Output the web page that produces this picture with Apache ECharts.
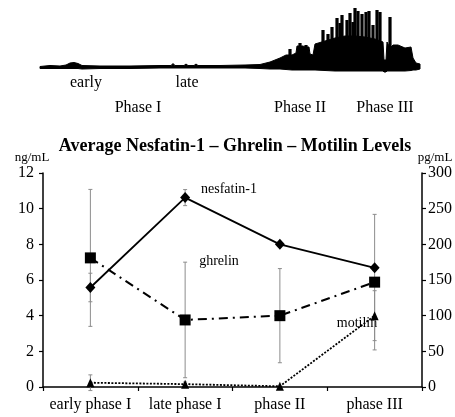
<!DOCTYPE html>
<html>
<head>
<meta charset="utf-8">
<script src="https://cdn.jsdelivr.net/npm/echarts@6/dist/echarts.min.js"></script>
<style>
html,body{margin:0;padding:0;background:#fff;}
#chart{width:455px;height:417px;}
</style>
</head>
<body>
<div id="chart"></div>
<script>
// ---- main chart data ----
const categories = ['early phase I', 'late phase I', 'phase II', 'phase III'];
const nesfatin = [5.58, 10.62, 8.0, 6.68];        // ng/mL (left axis)
const nesfatinErr = [0.8, 0.45, 0.15, 0.15];
const ghrelin = [181, 94, 100, 147];               // pg/mL (right axis)
const ghrelinErr = [96, 81, 66, 95];
const motilin = [6, 4, 1, 100];                    // pg/mL (right axis)
const motilinErr = [11, 3, 0, 35];
const leftTicks = [0, 2, 4, 6, 8, 10, 12];
const rightTicks = [0, 50, 100, 150, 200, 250, 300];

// ---- motility trace (time units, amplitude units) ----
const traceT   = [0, 10, 20, 26, 30, 34, 38, 42, 60, 90, 120, 131, 133, 135, 144, 146, 148, 154, 156, 158, 180, 205, 220, 230, 240, 246, 252, 256, 257, 263, 265, 269, 270, 273, 275, 285, 295, 305, 315, 325, 335, 343, 344, 346, 347, 350, 353, 358, 365, 371, 373, 376, 380];
const traceTop = [0.5, 1.5, 1, 2, 4, 4.5, 3.5, 1.5, 1, 1, 1.5, 1.5, 3.5, 1.5, 1.5, 3, 1.5, 1.5, 3, 1.5, 1.5, 2, 2.5, 5, 9, 12, 12, 14, 21, 21, 20, 20, 13, 12, 23, 26, 29, 31, 31, 30, 28, 25, 7, 7, 25, 19, 22, 22, 19, 20, 9, 4, 3];
const traceBot = [-1.5, -1.5, -1.5, -1.5, -1.5, -1.5, -1.5, -2, -1.5, -1.5, -1, -1, -1, -1, -1, -1, -1, -1, -1, -1, -1, -1, -1.5, -2, -2, -2.5, -3, -3, -3, -3, -3, -3, -3, -3, -3, -3.5, -4, -4, -4, -4, -4, -4, -5, -5, -4, -4, -4, -4, -4, -3.5, -3, -3, -2];
const spikeT   = [250, 260, 266, 283, 288, 292, 297, 300, 302, 307, 310, 313, 315, 318, 322, 326, 329, 333, 337, 340, 350];
const spikeTop = [18, 24, 22, 37, 33, 40, 49, 44, 52, 47, 54, 45, 59, 56, 53, 55, 56, 42, 57, 55, 50];

const serif = '"Liberation Serif", "DejaVu Serif", serif';

function errorBarSeries(values, errs, yAxisIndex) {
  return {
    type: 'custom',
    xAxisIndex: 0,
    yAxisIndex: yAxisIndex,
    z: 1,
    silent: true,
    data: values.map((v, i) => [i, v - errs[i], v + errs[i]]),
    renderItem: function (params, api) {
      if (api.value(2) - api.value(1) <= 0) return null;
      const lo = api.coord([api.value(0), api.value(1)]);
      const hi = api.coord([api.value(0), api.value(2)]);
      const w = 2;
      const st = { stroke: '#8c8c8c', lineWidth: 1 };
      return {
        type: 'group',
        children: [
          { type: 'line', shape: { x1: lo[0], y1: lo[1], x2: hi[0], y2: hi[1] }, style: st },
          { type: 'line', shape: { x1: lo[0] - w, y1: lo[1], x2: lo[0] + w, y2: lo[1] }, style: st },
          { type: 'line', shape: { x1: hi[0] - w, y1: hi[1], x2: hi[0] + w, y2: hi[1] }, style: st }
        ]
      };
    }
  };
}

const chart = echarts.init(document.getElementById('chart'), null, { renderer: 'canvas' });

const txt = (x, y, s, size, weight) => ({
  type: 'text', x: x, y: y, silent: true,
  style: { text: s, fill: '#000', font: (weight || 'normal') + ' ' + size + 'px ' + serif, textAlign: 'center', textVerticalAlign: 'middle' }
});

chart.setOption({
  animation: false,
  backgroundColor: '#fff',
  grid: [
    { left: 43, right: 32, top: 173, bottom: 30 },
    { left: 40, width: 380, top: 0, height: 80 }
  ],
  xAxis: [
    {
      type: 'category', gridIndex: 0, data: categories, boundaryGap: true,
      axisLine: { lineStyle: { color: '#000', width: 1.5 } },
      axisTick: { show: true, length: 4, interval: 0, lineStyle: { color: '#000', width: 1.2 } },
      axisLabel: { color: '#000', fontFamily: serif, fontSize: 16, margin: 10, interval: 0, hideOverlap: false },
      splitLine: { show: false }
    },
    { type: 'value', gridIndex: 1, min: 0, max: 380, show: false }
  ],
  yAxis: [
    {
      type: 'value', gridIndex: 0, position: 'left', min: leftTicks[0], max: leftTicks[leftTicks.length - 1], interval: 2,
      axisLine: { show: true, lineStyle: { color: '#000', width: 1.5 } },
      axisTick: { show: true, length: 4, lineStyle: { color: '#000', width: 1.2 } },
      axisLabel: { color: '#000', fontFamily: serif, fontSize: 16, margin: 9 },
      splitLine: { show: false }
    },
    {
      type: 'value', gridIndex: 0, position: 'right', min: rightTicks[0], max: rightTicks[rightTicks.length - 1], interval: 50,
      axisLine: { show: true, lineStyle: { color: '#000', width: 1.5 } },
      axisTick: { show: true, length: 4, lineStyle: { color: '#000', width: 1.2 } },
      axisLabel: { color: '#000', fontFamily: serif, fontSize: 16, margin: 6 },
      splitLine: { show: false }
    },
    { type: 'value', gridIndex: 1, min: -13, max: 67, show: false }
  ],
  series: [
    {
      type: 'custom', xAxisIndex: 1, yAxisIndex: 2, silent: true,
      data: traceT.map((t, i) => [t, traceTop[i], traceBot[i]]),
      renderItem: function (params, api) {
        if (params.dataIndex !== 0) return null;
        const pts = [];
        for (let i = 0; i < traceT.length; i++) pts.push(api.coord([traceT[i], traceTop[i]]));
        for (let i = traceT.length - 1; i >= 0; i--) pts.push(api.coord([traceT[i], traceBot[i]]));
        return { type: 'polygon', shape: { points: pts }, style: { fill: '#000', stroke: '#000', lineWidth: 1 } };
      }
    },
    {
      type: 'custom', xAxisIndex: 1, yAxisIndex: 2, silent: true,
      data: spikeT.map((t, i) => [t, spikeTop[i]]),
      renderItem: function (params, api) {
        const top = api.coord([api.value(0), api.value(1)]);
        const base = api.coord([api.value(0), 0]);
        return { type: 'rect', shape: { x: top[0] - 1.6, y: top[1], width: 3.2, height: base[1] - top[1] }, style: { fill: '#000' } };
      }
    },
    errorBarSeries(ghrelin, ghrelinErr, 1),
    errorBarSeries(nesfatin, nesfatinErr, 0),
    errorBarSeries(motilin, motilinErr, 1),
    {
      name: 'nesfatin-1', type: 'line', xAxisIndex: 0, yAxisIndex: 0, data: nesfatin, z: 3,
      symbol: 'diamond', symbolSize: [10, 11],
      itemStyle: { color: '#000' },
      lineStyle: { color: '#000', width: 1.8, type: 'solid' }
    },
    {
      name: 'ghrelin', type: 'line', xAxisIndex: 0, yAxisIndex: 1, data: ghrelin, z: 3,
      symbol: 'rect', symbolSize: 11,
      itemStyle: { color: '#000' },
      lineStyle: { color: '#000', width: 2, type: [9, 5, 2, 5] }
    },
    {
      name: 'motilin', type: 'line', xAxisIndex: 0, yAxisIndex: 1, data: motilin, z: 3,
      symbol: 'triangle', symbolSize: [8, 9],
      itemStyle: { color: '#000' },
      lineStyle: { color: '#000', width: 1.8, type: [2, 1.5] }
    }
  ],
  graphic: [
    txt(86, 83, 'early', 16),
    txt(187, 83, 'late', 16),
    txt(138, 108, 'Phase I', 16),
    txt(300, 108, 'Phase II', 16),
    txt(385, 108, 'Phase III', 16),
    txt(235, 146, 'Average Nesfatin-1 \u2013 Ghrelin \u2013 Motilin Levels', 18, 'bold'),
    txt(32, 158, 'ng/mL', 13),
    txt(435, 158, 'pg/mL', 13),
    txt(229, 189, 'nesfatin-1', 14),
    txt(219, 261, 'ghrelin', 14),
    txt(357, 323, 'motilin', 14)
  ]
});
</script>
</body>
</html>
